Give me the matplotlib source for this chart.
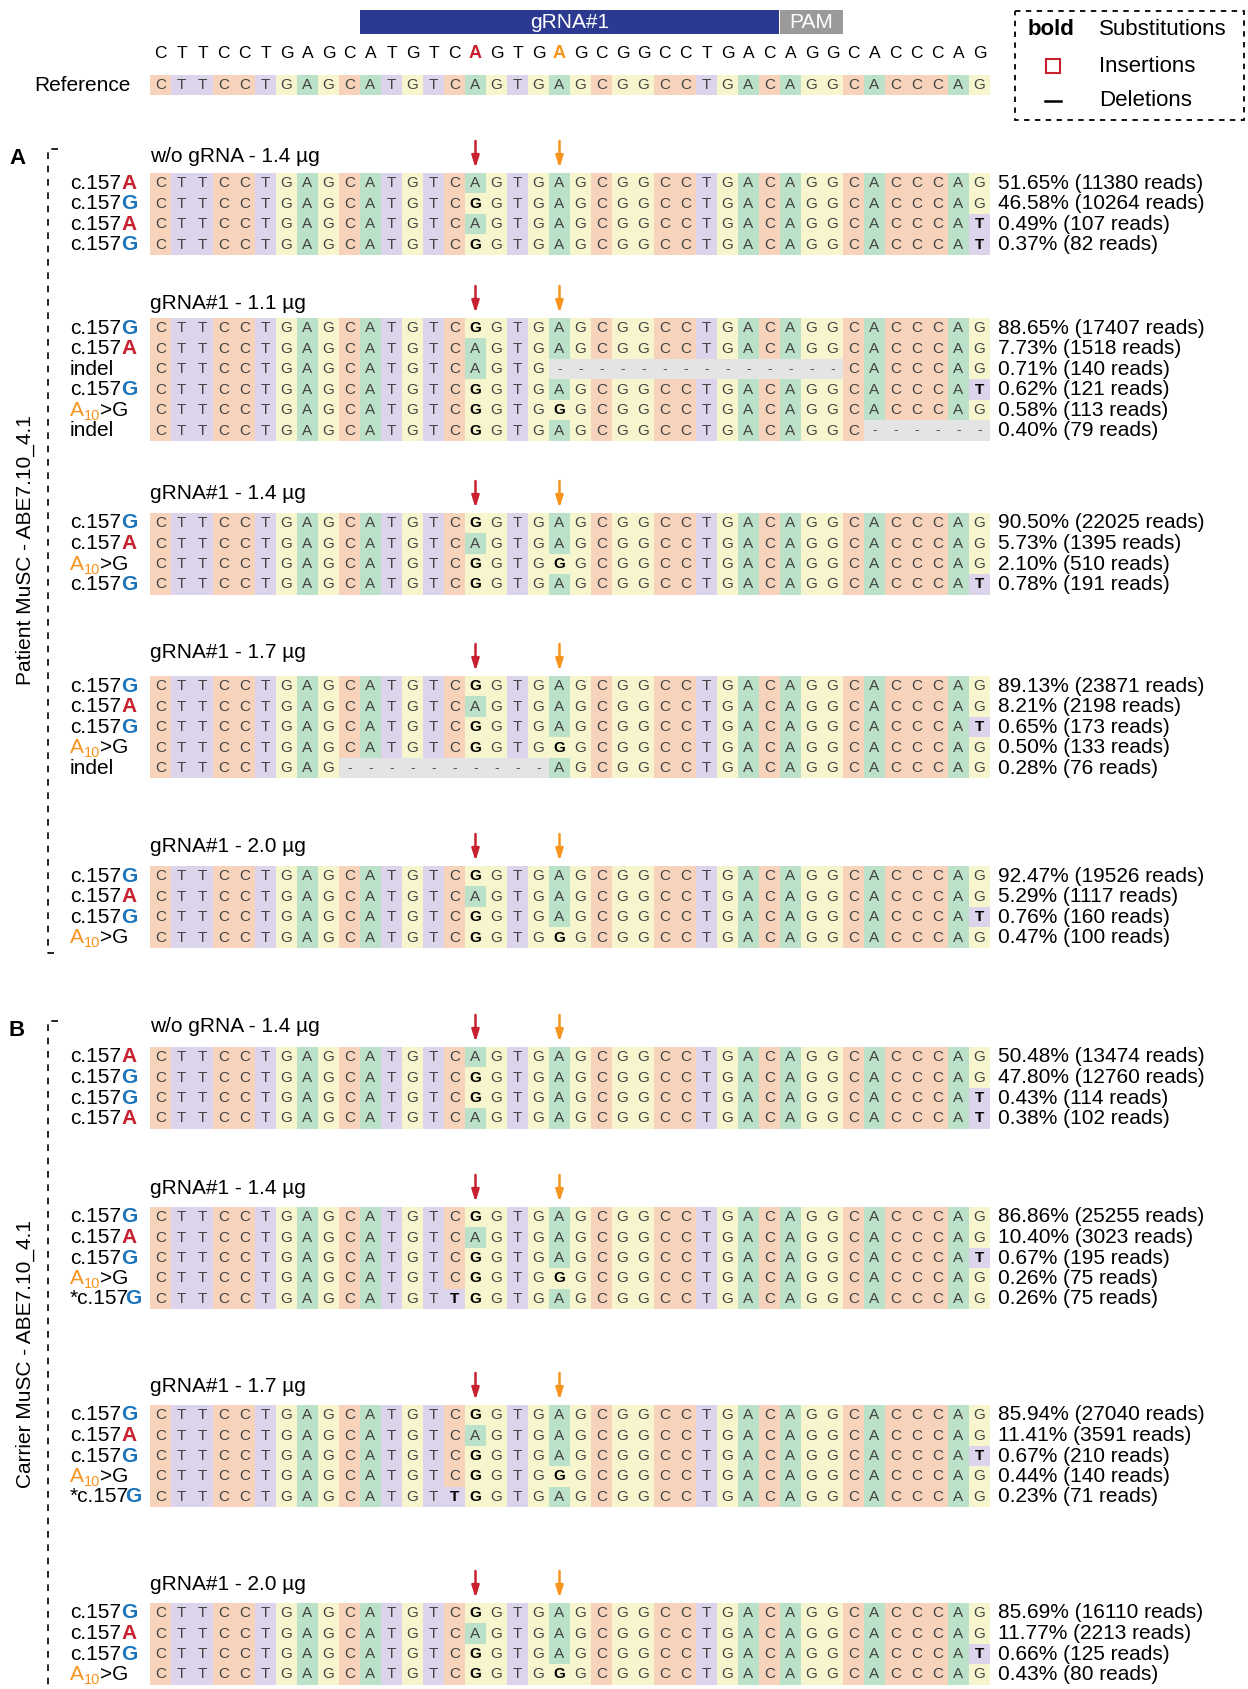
import matplotlib
matplotlib.use('Agg')
import matplotlib.pyplot as plt
from matplotlib.patches import Rectangle

plt.rcParams['font.family'] = ['Liberation Sans', 'DejaVu Sans']

# Reference amplicon and the read variants seen in the panels
REF = "CTTCCTGAGCATGTCAGTGAGCGGCCTGACAGGCACCCAG"
SEQ_157A = REF
SEQ_157G = "CTTCCTGAGCATGTCGGTGAGCGGCCTGACAGGCACCCAG"
SEQ_157A_T = "CTTCCTGAGCATGTCAGTGAGCGGCCTGACAGGCACCCAT"
SEQ_157G_T = "CTTCCTGAGCATGTCGGTGAGCGGCCTGACAGGCACCCAT"
SEQ_A10G = "CTTCCTGAGCATGTCGGTGGGCGGCCTGACAGGCACCCAG"
SEQ_STAR = "CTTCCTGAGCATGTTGGTGAGCGGCCTGACAGGCACCCAG"
SEQ_DEL1 = "CTTCCTGAGCATGTCAGTG--------------CACCCAG"
SEQ_DEL2 = "CTTCCTGAGCATGTCGGTGAGCGGCCTGACAGGC------"
SEQ_DEL3 = "CTTCCTGAG----------AGCGGCCTGACAGGCACCCAG"

SITE_157 = 15   # column of c.157 (0-based)
SITE_A10 = 19   # column of A10
GRNA_COLS = (10, 30)
PAM_COLS = (30, 33)

# ---- Panel A: Patient MuSC ----
a1_title = "w/o gRNA - 1.4 µg"
a1_labels = ["c.157A", "c.157G", "c.157A", "c.157G"]
a1_seqs = [SEQ_157A, SEQ_157G, SEQ_157A_T, SEQ_157G_T]
a1_pct = [51.65, 46.58, 0.49, 0.37]
a1_reads = [11380, 10264, 107, 82]

a2_title = "gRNA#1 - 1.1 µg"
a2_labels = ["c.157G", "c.157A", "indel", "c.157G", "A10>G", "indel"]
a2_seqs = [SEQ_157G, SEQ_157A, SEQ_DEL1, SEQ_157G_T, SEQ_A10G, SEQ_DEL2]
a2_pct = [88.65, 7.73, 0.71, 0.62, 0.58, 0.40]
a2_reads = [17407, 1518, 140, 121, 113, 79]

a3_title = "gRNA#1 - 1.4 µg"
a3_labels = ["c.157G", "c.157A", "A10>G", "c.157G"]
a3_seqs = [SEQ_157G, SEQ_157A, SEQ_A10G, SEQ_157G_T]
a3_pct = [90.50, 5.73, 2.10, 0.78]
a3_reads = [22025, 1395, 510, 191]

a4_title = "gRNA#1 - 1.7 µg"
a4_labels = ["c.157G", "c.157A", "c.157G", "A10>G", "indel"]
a4_seqs = [SEQ_157G, SEQ_157A, SEQ_157G_T, SEQ_A10G, SEQ_DEL3]
a4_pct = [89.13, 8.21, 0.65, 0.50, 0.28]
a4_reads = [23871, 2198, 173, 133, 76]

a5_title = "gRNA#1 - 2.0 µg"
a5_labels = ["c.157G", "c.157A", "c.157G", "A10>G"]
a5_seqs = [SEQ_157G, SEQ_157A, SEQ_157G_T, SEQ_A10G]
a5_pct = [92.47, 5.29, 0.76, 0.47]
a5_reads = [19526, 1117, 160, 100]

# ---- Panel B: Carrier MuSC ----
b1_title = "w/o gRNA - 1.4 µg"
b1_labels = ["c.157A", "c.157G", "c.157G", "c.157A"]
b1_seqs = [SEQ_157A, SEQ_157G, SEQ_157G_T, SEQ_157A_T]
b1_pct = [50.48, 47.80, 0.43, 0.38]
b1_reads = [13474, 12760, 114, 102]

b2_title = "gRNA#1 - 1.4 µg"
b2_labels = ["c.157G", "c.157A", "c.157G", "A10>G", "*c.157G"]
b2_seqs = [SEQ_157G, SEQ_157A, SEQ_157G_T, SEQ_A10G, SEQ_STAR]
b2_pct = [86.86, 10.40, 0.67, 0.26, 0.26]
b2_reads = [25255, 3023, 195, 75, 75]

b3_title = "gRNA#1 - 1.7 µg"
b3_labels = ["c.157G", "c.157A", "c.157G", "A10>G", "*c.157G"]
b3_seqs = [SEQ_157G, SEQ_157A, SEQ_157G_T, SEQ_A10G, SEQ_STAR]
b3_pct = [85.94, 11.41, 0.67, 0.44, 0.23]
b3_reads = [27040, 3591, 210, 140, 71]

b4_title = "gRNA#1 - 2.0 µg"
b4_labels = ["c.157G", "c.157A", "c.157G", "A10>G"]
b4_seqs = [SEQ_157G, SEQ_157A, SEQ_157G_T, SEQ_A10G]
b4_pct = [85.69, 11.77, 0.66, 0.43]
b4_reads = [16110, 2213, 125, 80]

panels = [
    (a1_title, a1_labels, a1_seqs, a1_pct, a1_reads),
    (a2_title, a2_labels, a2_seqs, a2_pct, a2_reads),
    (a3_title, a3_labels, a3_seqs, a3_pct, a3_reads),
    (a4_title, a4_labels, a4_seqs, a4_pct, a4_reads),
    (a5_title, a5_labels, a5_seqs, a5_pct, a5_reads),
    (b1_title, b1_labels, b1_seqs, b1_pct, b1_reads),
    (b2_title, b2_labels, b2_seqs, b2_pct, b2_reads),
    (b3_title, b3_labels, b3_seqs, b3_pct, b3_reads),
    (b4_title, b4_labels, b4_seqs, b4_pct, b4_reads),
]
# layout (pixel rows of the figure): title line and first read row of each block
title_y = [156, 303, 493, 652, 846, 1026, 1189, 1386, 1584]
row0_y = [183, 328, 523, 686, 876, 1057, 1217, 1415, 1613]

# styling
W, H = 1248, 1689
X0, CW, RH = 150, 21, 20.5
BASE_COL = {'C': '#f7d3bc', 'T': '#dbd4ea', 'G': '#f7f5cd', 'A': '#bce1c9', '-': '#e4e4e4'}
RED, BLUE, ORANGE = '#c8202f', '#1c75bc', '#f7941d'
FS = 15

fig = plt.figure(figsize=(W / 100, H / 100), dpi=100)
ax = fig.add_axes([0, 0, 1, 1])
ax.set_xlim(0, W)
ax.set_ylim(H, 0)
ax.axis('off')


def col_x(i):
    return X0 + i * CW


def draw_row(y, seq):
    for i, b in enumerate(seq):
        ax.add_patch(Rectangle((col_x(i), y - RH / 2), CW, RH, color=BASE_COL[b], lw=0, zorder=1))
        if b == '-':
            ax.text(col_x(i) + CW / 2, y, '-', ha='center', va='center', fontsize=10, color='#555555', zorder=2)
        elif b != REF[i]:
            ax.text(col_x(i) + CW / 2, y, b, ha='center', va='center', fontsize=11, fontweight='bold', color='black', zorder=2)
        else:
            ax.text(col_x(i) + CW / 2, y, b, ha='center', va='center', fontsize=11, color='#424242', zorder=2)


def after(prev, s, dx=0, dy=0, **kw):
    return ax.annotate(s, xy=(1, 0.5), xycoords=prev, xytext=(dx, dy), textcoords='offset points',
                       ha='left', va='center', **kw)


def draw_label(x, y, label):
    if label.startswith('A10'):
        t = ax.text(x, y, 'A', fontsize=FS, color=ORANGE, va='center', ha='left')
        t = after(t, '10', dy=-4, fontsize=10.5, color=ORANGE)
        after(t, '>G', dy=4, fontsize=FS, color='black')
    elif label.startswith('c.157') or label.startswith('*c.157'):
        base = label[-1]
        t = ax.text(x, y, label[:-1], fontsize=FS, va='center', ha='left')
        after(t, base, dx=-3 if label.startswith('*') else 0, fontsize=FS, fontweight='bold',
              color=RED if base == 'A' else BLUE)
    else:
        ax.text(x, y, label, fontsize=FS, va='center', ha='left')


def arrow(x, tip, color):
    ax.annotate('', xy=(x, tip), xytext=(x, tip - 27),
                arrowprops=dict(arrowstyle='-|>,head_length=0.7,head_width=0.22', color=color,
                                lw=1.8, shrinkA=0, shrinkB=0))


# ---- header: gRNA / PAM bar, sequence, reference ----
ax.add_patch(Rectangle((col_x(GRNA_COLS[0]), 10), col_x(GRNA_COLS[1]) - col_x(GRNA_COLS[0]) - 1, 24,
                       color='#2b3990', lw=0))
ax.add_patch(Rectangle((col_x(PAM_COLS[0]), 10), col_x(PAM_COLS[1]) - col_x(PAM_COLS[0]), 24,
                       color='#9a9a9a', lw=0))
ax.text((col_x(GRNA_COLS[0]) + col_x(GRNA_COLS[1])) / 2, 22, 'gRNA#1', color='white', fontsize=FS,
        ha='center', va='center')
ax.text((col_x(PAM_COLS[0]) + col_x(PAM_COLS[1])) / 2, 22, 'PAM', color='white', fontsize=FS,
        ha='center', va='center')
for i, b in enumerate(REF):
    if i == SITE_157:
        ax.text(col_x(i) + CW / 2, 53, b, ha='center', va='center', fontsize=13, color=RED, fontweight='bold')
    elif i == SITE_A10:
        ax.text(col_x(i) + CW / 2, 53, b, ha='center', va='center', fontsize=13, color=ORANGE, fontweight='bold')
    else:
        ax.text(col_x(i) + CW / 2, 53, b, ha='center', va='center', fontsize=12.5, color='black')
ax.text(131, 85, 'Reference', ha='right', va='center', fontsize=FS)
draw_row(85, REF)

# ---- legend ----
ax.add_patch(Rectangle((1015, 11), 229, 109, fill=False, ec='black', lw=1.3, ls=(0, (3, 3))))
ax.text(1028, 29, 'bold', fontsize=16, fontweight='bold', va='center', ha='left')
ax.text(1099, 29, 'Substitutions', fontsize=16, va='center', ha='left')
ax.add_patch(Rectangle((1046, 59), 14, 14, fill=False, ec=RED, lw=1.5))
ax.text(1099, 66, 'Insertions', fontsize=16, va='center', ha='left')
ax.plot([1045, 1061], [101, 101], color='black', lw=1.8)
ax.text(1099, 100, 'Deletions', fontsize=16, va='center', ha='left')

# ---- read blocks ----
for (title, labels, seqs, pct, reads), ty, r0 in zip(panels, title_y, row0_y):
    ax.text(X0, ty, title, fontsize=FS, va='center', ha='left')
    arrow(col_x(SITE_157) + CW / 2, r0 - 15, RED)
    arrow(col_x(SITE_A10) + CW / 2, r0 - 15, ORANGE)
    for k, (lab, seq, p, n) in enumerate(zip(labels, seqs, pct, reads)):
        y = r0 + k * RH
        draw_label(70, y, lab)
        draw_row(y, seq)
        ax.text(998, y, f"{p:.2f}% ({n} reads)", fontsize=FS, va='center', ha='left')

# ---- group brackets and labels ----
ax.plot([58, 48, 48, 58], [149, 149, 953, 953], color='black', lw=1.2, ls=(0, (4, 4)))
ax.plot([58, 48, 48], [1021, 1021, H], color='black', lw=1.2, ls=(0, (4, 4)))
ax.text(17, 158, 'A', fontsize=16, fontweight='bold', ha='center', va='center')
ax.text(17, 1031, 'B', fontsize=16, fontweight='bold', ha='center', va='center')
ax.text(25, 550, 'Patient MuSC - ABE7.10_4.1', rotation=90, fontsize=FS, ha='center', va='center')
ax.text(25, 1354, 'Carrier MuSC - ABE7.10_4.1', rotation=90, fontsize=FS, ha='center', va='center')

fig.savefig('out.png', dpi=100)
